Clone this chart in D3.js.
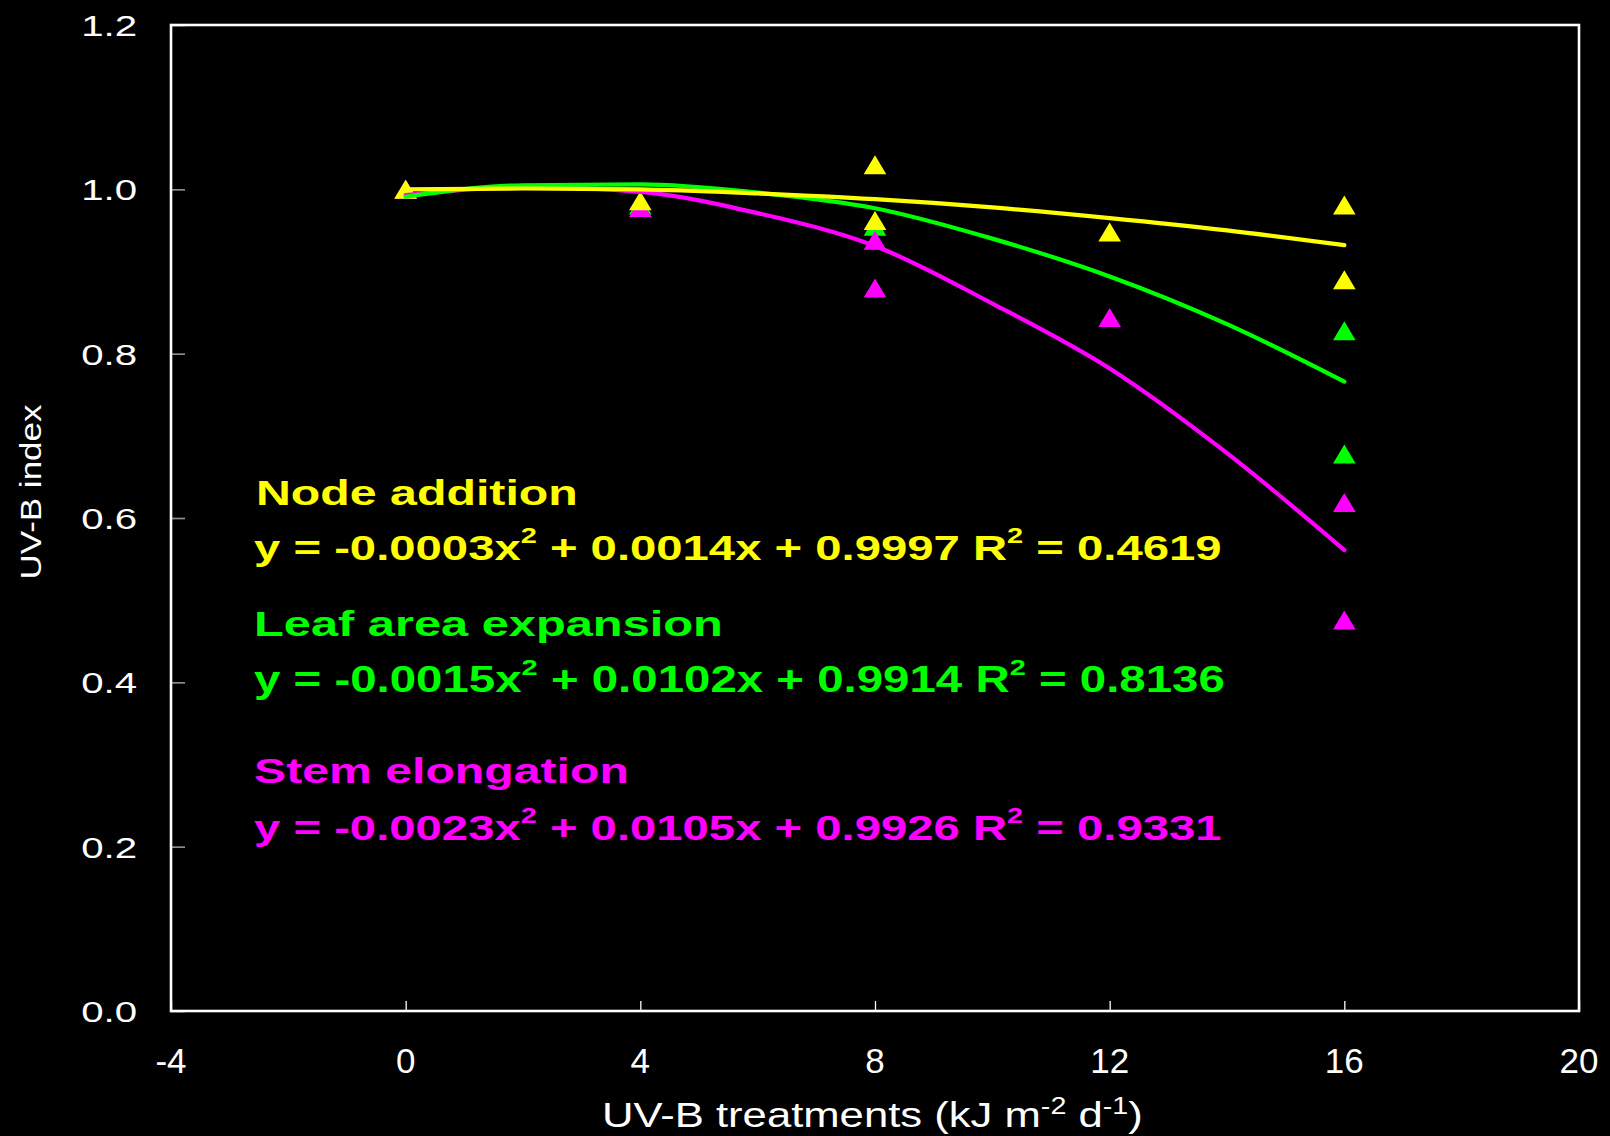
<!DOCTYPE html>
<html><head><meta charset="utf-8">
<script src="https://cdn.jsdelivr.net/npm/d3@7"></script>
<style>html,body{margin:0;padding:0;background:#000;} svg{display:block}</style>
</head><body>
<svg id="chart" width="1610" height="1136"></svg>
<script>
// ---- data ----
const xTicks = [-4, 0, 4, 8, 12, 16, 20];
const yTicks = [0, 0.2, 0.4, 0.6, 0.8, 1.0, 1.2];
const seriesNames = ["Node addition", "Leaf area expansion", "Stem elongation"];
const seriesColors = ["#FFFF00", "#00FF00", "#FF00FF"];
const nodeX = [0, 4, 8, 8, 12, 16, 16];
const nodeY = [1.000, 0.986, 1.030, 0.962, 0.948, 0.981, 0.890];
const leafX = [0, 4, 8, 16, 16];
const leafY = [1.000, 0.981, 0.955, 0.828, 0.678];
const stemX = [0, 4, 8, 8, 12, 16, 16];
const stemY = [1.000, 0.978, 0.938, 0.880, 0.844, 0.619, 0.476];
const trendX = [0, 2, 4, 6, 8, 10, 12, 14, 16];
const nodeTrend = [1.000, 1.001, 1.000, 0.995, 0.988, 0.978, 0.965, 0.950, 0.932];
const leafTrend = [0.991, 1.005, 1.006, 0.996, 0.977, 0.940, 0.894, 0.836, 0.766];
const stemTrend = [0.993, 1.003, 0.997, 0.971, 0.931, 0.861, 0.782, 0.679, 0.561];
const eqA = ["-0.0003", "+ 0.0014", "+ 0.9997", "0.4619"];
const eqB = ["-0.0015", "+ 0.0102", "+ 0.9914", "0.8136"];
const eqC = ["-0.0023", "+ 0.0105", "+ 0.9926", "0.9331"];
const xTitle = ["UV-B treatments (kJ m", "-2", " d", "-1", ")"];
const yTitle = "UV-B index";

// ---- layout ----
const L = 171, R = 1579, T = 25, B = 1011;
const FONT = "'Liberation Sans', Arial, Helvetica, sans-serif";
const svg = d3.select("#chart");
svg.append("rect").attr("width", 1610).attr("height", 1136).attr("fill", "#000");

const x = d3.scaleLinear().domain([-4, 20]).range([L, R]);
const y = d3.scaleLinear().domain([0, 1.2]).range([B, T]);

// ticks
const gy = svg.append("g").attr("transform", `translate(${L},0)`)
  .call(d3.axisLeft(y).tickValues(yTicks).tickSizeInner(-14).tickSizeOuter(0).tickFormat(""));
gy.select(".domain").remove();
gy.selectAll(".tick line").attr("stroke", "#8c8c8c").attr("stroke-width", 1.7);

const gx = svg.append("g").attr("transform", `translate(0,${B})`)
  .call(d3.axisBottom(x).tickValues(xTicks).tickSizeInner(-10).tickSizeOuter(0).tickFormat(""));
gx.select(".domain").remove();
gx.selectAll(".tick line").attr("stroke", "#fff").attr("stroke-width", 1.3);

// frame
svg.append("rect").attr("x", L).attr("y", T).attr("width", R - L).attr("height", B - T)
  .attr("fill", "none").attr("stroke", "#fff").attr("stroke-width", 2.6);

// tick labels
const fmt = d3.format(".1f");
yTicks.forEach(v => {
  svg.append("text").text(fmt(v))
    .attr("transform", `translate(137,${y(v) + 11}) scale(1.34,1)`)
    .attr("text-anchor", "end").attr("fill", "#fff")
    .style("font-family", FONT).style("font-size", "30px");
});
xTicks.forEach(v => {
  svg.append("text").text(d3.format("d")(v).replace("\u2212", "-"))
    .attr("x", x(v)).attr("y", 1073)
    .attr("text-anchor", "middle").attr("fill", "#fff")
    .style("font-family", FONT).style("font-size", "35px");
});

function fitScale(sel, target) {
  const w = sel.node().getBBox().width;
  return target / w;
}

// x title
const xt = svg.append("text").attr("fill", "#fff").style("font-family", FONT).style("font-size", "35px");
xt.append("tspan").text(xTitle[0]);
xt.append("tspan").text(xTitle[1]).attr("dy", -13).style("font-size", "23px");
xt.append("tspan").text(xTitle[2]).attr("dy", 13);
xt.append("tspan").text(xTitle[3]).attr("dy", -13).style("font-size", "23px");
xt.append("tspan").text(xTitle[4]).attr("dy", 13);
xt.attr("transform", `translate(602,1127) scale(${fitScale(xt, 541)},1)`);

// y title
const yt = svg.append("text").text(yTitle).attr("fill", "#fff").attr("text-anchor", "middle")
  .style("font-family", FONT).style("font-size", "30px");
yt.attr("transform", `translate(41,492) rotate(-90) scale(${fitScale(yt, 175)},1)`);

// markers
const tri = "M0,-9.5L11.3,9.5L-11.3,9.5Z";
const pts = [
  {xs: leafX, ys: leafY, c: seriesColors[1]},
  {xs: stemX, ys: stemY, c: seriesColors[2]},
  {xs: nodeX, ys: nodeY, c: seriesColors[0]}
];
pts.forEach(s => {
  svg.append("g").selectAll("path").data(s.xs.map((d, i) => [d, s.ys[i]])).join("path")
    .attr("d", tri).attr("fill", s.c)
    .attr("transform", d => `translate(${x(d[0])},${y(d[1])})`);
});

// trendlines
const line = d3.line().x(d => x(d[0])).y(d => y(d[1])).curve(d3.curveMonotoneX);
[[stemTrend, seriesColors[2]], [leafTrend, seriesColors[1]], [nodeTrend, seriesColors[0]]].forEach(([vals, c]) => {
  svg.append("path").datum(trendX.map((d, i) => [d, vals[i]])).attr("d", line)
    .attr("fill", "none").attr("stroke", c).attr("stroke-width", 4.2)
    .attr("stroke-linecap", "round").attr("stroke-linejoin", "round");
});

// equations / labels
function eqText(parts, x0, yb, w, color) {
  const t = svg.append("text").attr("fill", color).style("font-family", FONT)
    .style("font-size", "36px").style("font-weight", "bold");
  t.append("tspan").text("y = " + parts[0] + "x");
  t.append("tspan").text("2").attr("dy", -17).style("font-size", "22px");
  t.append("tspan").text(" " + parts[1] + "x " + parts[2] + " R").attr("dy", 17);
  t.append("tspan").text("2").attr("dy", -17).style("font-size", "22px");
  t.append("tspan").text(" = " + parts[3]).attr("dy", 17);
  t.attr("transform", `translate(${x0},${yb}) scale(${fitScale(t, w)},1)`);
}
function nameText(name, x0, yb, w, color) {
  const t = svg.append("text").text(name).attr("fill", color).style("font-family", FONT)
    .style("font-size", "36px").style("font-weight", "bold");
  t.attr("transform", `translate(${x0},${yb}) scale(${fitScale(t, w)},1)`);
}
nameText(seriesNames[0], 256, 505, 322, seriesColors[0]);
eqText(eqA, 254, 560, 968, seriesColors[0]);
nameText(seriesNames[1], 254, 636, 469, seriesColors[1]);
eqText(eqB, 254, 692, 971, seriesColors[1]);
nameText(seriesNames[2], 254, 783, 375, seriesColors[2]);
eqText(eqC, 254, 840, 968, seriesColors[2]);
</script>
</body></html>
